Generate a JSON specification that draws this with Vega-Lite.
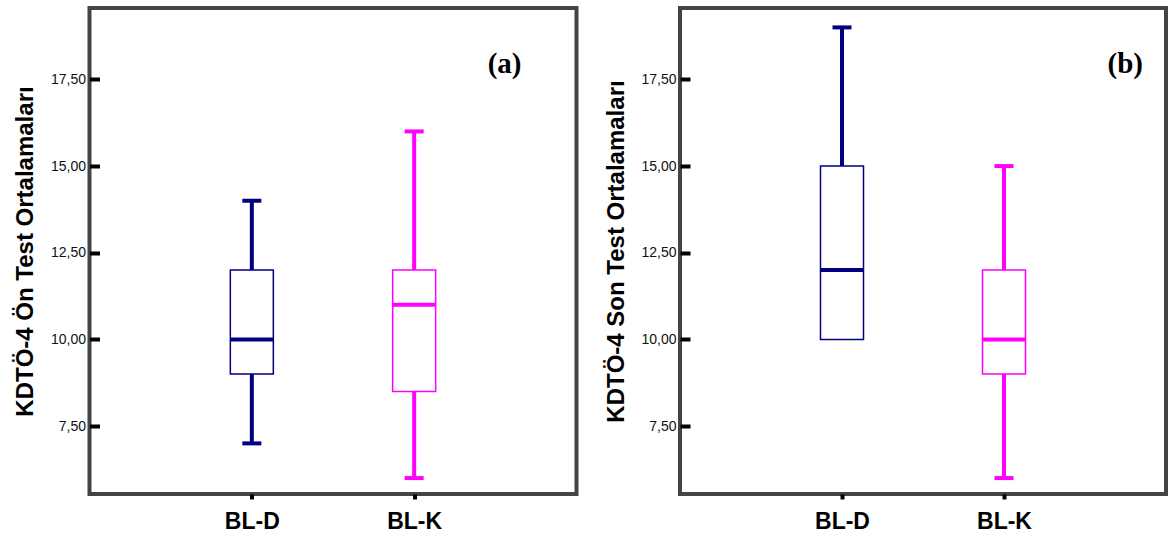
{
  "$schema": "https://vega.github.io/schema/vega-lite/v6.json",
  "background": "white",
  "padding": {"left": 11.5, "top": 6, "right": 2, "bottom": 5},
  "datasets": {
    "a": [
      {"group": "BL-D", "min": 7, "q1": 9, "median": 10, "q3": 12, "max": 14},
      {"group": "BL-K", "min": 6, "q1": 8.5, "median": 11, "q3": 12, "max": 16}
    ],
    "b": [
      {"group": "BL-D", "min": 10, "q1": 10, "median": 12, "q3": 15, "max": 19},
      {"group": "BL-K", "min": 6, "q1": 9, "median": 10, "q3": 12, "max": 15}
    ]
  },
  "spacing": 23.5,
  "hconcat": [
    {
      "width": 487, "height": 486,
      "data": {"name": "a"},
      "title": {"text": "(a)", "orient": "top", "anchor": "end", "frame": "group", "offset": -94, "dx": -55, "baseline": "alphabetic", "font": "Liberation Serif", "fontSize": 29, "fontWeight": "bold", "color": "black"},
      "encoding": {
        "x": {"field": "group", "type": "nominal", "sort": ["BL-D", "BL-K"], "scale": {"type": "point", "padding": 1}, "axis": {"title": null}}
      },
      "layer": [
        {"mark": {"type": "rule", "strokeWidth": 4, "strokeCap": "butt"},
         "encoding": {"y": {"field": "min", "type": "quantitative", "scale": {"domain": [5.54, 19.56], "nice": false, "zero": false}, "axis": {"title": "KDTÖ-4 Ön Test Ortalamaları", "offset": -10, "values": [7.5, 10, 12.5, 15, 17.5], "labelExpr": "replace(format(datum.value,'.2f'),'.',',')"}}, "y2": {"field": "q1"},
           "color": {"field": "group", "type": "nominal", "scale": {"domain": ["BL-D", "BL-K"], "range": ["#000080", "#FF00FF"]}, "legend": null}}},
        {"mark": {"type": "rule", "strokeWidth": 4, "strokeCap": "butt"},
         "encoding": {"y": {"field": "q3", "type": "quantitative", "axis": {"title": "KDTÖ-4 Ön Test Ortalamaları", "offset": -10, "values": [7.5, 10, 12.5, 15, 17.5], "labelExpr": "replace(format(datum.value,'.2f'),'.',',')"}}, "y2": {"field": "max"},
           "color": {"field": "group", "type": "nominal", "scale": {"domain": ["BL-D", "BL-K"], "range": ["#000080", "#FF00FF"]}, "legend": null}}},
        {"mark": {"type": "bar", "width": 43, "fill": "white", "strokeWidth": 1.5, "opacity": 1},
         "encoding": {"y": {"field": "q3", "type": "quantitative", "axis": {"title": "KDTÖ-4 Ön Test Ortalamaları", "offset": -10, "values": [7.5, 10, 12.5, 15, 17.5], "labelExpr": "replace(format(datum.value,'.2f'),'.',',')"}}, "y2": {"field": "q1"},
           "stroke": {"field": "group", "type": "nominal", "scale": {"domain": ["BL-D", "BL-K"], "range": ["#000080", "#FF00FF"]}, "legend": null}}},
        {"mark": {"type": "tick", "size": 43, "thickness": 4, "opacity": 1},
         "encoding": {"y": {"field": "median", "type": "quantitative", "axis": {"title": "KDTÖ-4 Ön Test Ortalamaları", "offset": -10, "values": [7.5, 10, 12.5, 15, 17.5], "labelExpr": "replace(format(datum.value,'.2f'),'.',',')"}},
           "color": {"field": "group", "type": "nominal", "scale": {"domain": ["BL-D", "BL-K"], "range": ["#000080", "#FF00FF"]}, "legend": null}}},
        {"mark": {"type": "tick", "size": 19, "thickness": 4, "opacity": 1},
         "transform": [{"filter": "datum.min < datum.q1"}],
         "encoding": {"y": {"field": "min", "type": "quantitative", "axis": {"title": "KDTÖ-4 Ön Test Ortalamaları", "offset": -10, "values": [7.5, 10, 12.5, 15, 17.5], "labelExpr": "replace(format(datum.value,'.2f'),'.',',')"}},
           "color": {"field": "group", "type": "nominal", "scale": {"domain": ["BL-D", "BL-K"], "range": ["#000080", "#FF00FF"]}, "legend": null}}},
        {"mark": {"type": "tick", "size": 19, "thickness": 4, "opacity": 1},
         "transform": [{"filter": "datum.max > datum.q3"}],
         "encoding": {"y": {"field": "max", "type": "quantitative", "axis": {"title": "KDTÖ-4 Ön Test Ortalamaları", "offset": -10, "values": [7.5, 10, 12.5, 15, 17.5], "labelExpr": "replace(format(datum.value,'.2f'),'.',',')"}},
           "color": {"field": "group", "type": "nominal", "scale": {"domain": ["BL-D", "BL-K"], "range": ["#000080", "#FF00FF"]}, "legend": null}}}
      ]
    },
    {
      "width": 486, "height": 486,
      "data": {"name": "b"},
      "title": {"text": "(b)", "orient": "top", "anchor": "end", "frame": "group", "offset": -94, "dx": -23, "baseline": "alphabetic", "font": "Liberation Serif", "fontSize": 29, "fontWeight": "bold", "color": "black"},
      "encoding": {
        "x": {"field": "group", "type": "nominal", "sort": ["BL-D", "BL-K"], "scale": {"type": "point", "padding": 1}, "axis": {"title": null}}
      },
      "layer": [
        {"mark": {"type": "rule", "strokeWidth": 4, "strokeCap": "butt"},
         "encoding": {"y": {"field": "min", "type": "quantitative", "scale": {"domain": [5.54, 19.56], "nice": false, "zero": false}, "axis": {"title": "KDTÖ-4 Son Test Ortalamaları", "offset": -10, "values": [7.5, 10, 12.5, 15, 17.5], "labelExpr": "replace(format(datum.value,'.2f'),'.',',')"}}, "y2": {"field": "q1"},
           "color": {"field": "group", "type": "nominal", "scale": {"domain": ["BL-D", "BL-K"], "range": ["#000080", "#FF00FF"]}, "legend": null}}},
        {"mark": {"type": "rule", "strokeWidth": 4, "strokeCap": "butt"},
         "encoding": {"y": {"field": "q3", "type": "quantitative", "axis": {"title": "KDTÖ-4 Son Test Ortalamaları", "offset": -10, "values": [7.5, 10, 12.5, 15, 17.5], "labelExpr": "replace(format(datum.value,'.2f'),'.',',')"}}, "y2": {"field": "max"},
           "color": {"field": "group", "type": "nominal", "scale": {"domain": ["BL-D", "BL-K"], "range": ["#000080", "#FF00FF"]}, "legend": null}}},
        {"mark": {"type": "bar", "width": 43, "fill": "white", "strokeWidth": 1.5, "opacity": 1},
         "encoding": {"y": {"field": "q3", "type": "quantitative", "axis": {"title": "KDTÖ-4 Son Test Ortalamaları", "offset": -10, "values": [7.5, 10, 12.5, 15, 17.5], "labelExpr": "replace(format(datum.value,'.2f'),'.',',')"}}, "y2": {"field": "q1"},
           "stroke": {"field": "group", "type": "nominal", "scale": {"domain": ["BL-D", "BL-K"], "range": ["#000080", "#FF00FF"]}, "legend": null}}},
        {"mark": {"type": "tick", "size": 43, "thickness": 4, "opacity": 1},
         "encoding": {"y": {"field": "median", "type": "quantitative", "axis": {"title": "KDTÖ-4 Son Test Ortalamaları", "offset": -10, "values": [7.5, 10, 12.5, 15, 17.5], "labelExpr": "replace(format(datum.value,'.2f'),'.',',')"}},
           "color": {"field": "group", "type": "nominal", "scale": {"domain": ["BL-D", "BL-K"], "range": ["#000080", "#FF00FF"]}, "legend": null}}},
        {"mark": {"type": "tick", "size": 19, "thickness": 4, "opacity": 1},
         "transform": [{"filter": "datum.min < datum.q1"}],
         "encoding": {"y": {"field": "min", "type": "quantitative", "axis": {"title": "KDTÖ-4 Son Test Ortalamaları", "offset": -10, "values": [7.5, 10, 12.5, 15, 17.5], "labelExpr": "replace(format(datum.value,'.2f'),'.',',')"}},
           "color": {"field": "group", "type": "nominal", "scale": {"domain": ["BL-D", "BL-K"], "range": ["#000080", "#FF00FF"]}, "legend": null}}},
        {"mark": {"type": "tick", "size": 19, "thickness": 4, "opacity": 1},
         "transform": [{"filter": "datum.max > datum.q3"}],
         "encoding": {"y": {"field": "max", "type": "quantitative", "axis": {"title": "KDTÖ-4 Son Test Ortalamaları", "offset": -10, "values": [7.5, 10, 12.5, 15, 17.5], "labelExpr": "replace(format(datum.value,'.2f'),'.',',')"}},
           "color": {"field": "group", "type": "nominal", "scale": {"domain": ["BL-D", "BL-K"], "range": ["#000080", "#FF00FF"]}, "legend": null}}}
      ]
    }
  ],
  "config": {
    "font": "Liberation Sans",
    "view": {"stroke": "#444444", "strokeWidth": 4},
    "axis": {"grid": false, "domain": false, "tickColor": "black", "tickWidth": 4},
    "axisX": {"labelAngle": 0, "labelFont": "Liberation Sans", "labelFontSize": 23, "labelFontWeight": "bold", "labelColor": "black", "tickSize": 5, "labelPadding": 11},
    "axisY": {"labelFont": "Liberation Sans", "labelFontSize": 14, "labelColor": "#111111", "tickSize": 10, "labelPadding": 4, "titleFont": "Liberation Sans", "titleFontSize": 24, "titleFontWeight": "bold", "titleColor": "black", "titlePadding": 12.5}
  }
}
